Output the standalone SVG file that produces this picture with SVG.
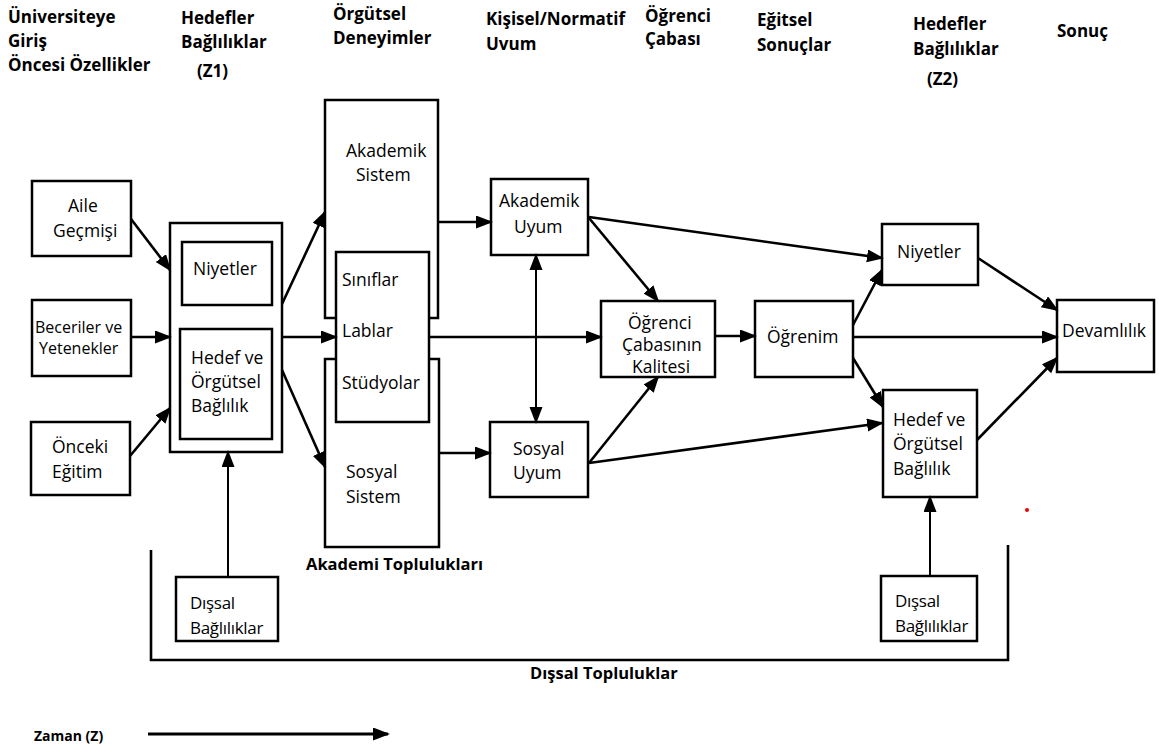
<svg xmlns="http://www.w3.org/2000/svg" width="1159" height="754" viewBox="0 0 1159 754">
<style>
.box{fill:#fff;stroke:#000;stroke-width:2.5}
.t{font-family:"Open Sans","Noto Sans",sans-serif;font-size:17.5px;fill:#000}
.s{font-size:16px}
.c{font-size:17px;letter-spacing:-0.3px}
.h{font-family:"Open Sans","Noto Sans",sans-serif;font-size:17px;font-weight:bold;fill:#000}
.conn line,.conn path{stroke:#000;stroke-width:2.6;fill:none}
</style>
<defs>
<marker id="ah" markerUnits="userSpaceOnUse" markerWidth="18" markerHeight="14" refX="15" refY="6.5" orient="auto">
<path d="M0,0 L17,6.5 L0,13 z" fill="#000"/>
</marker>
<marker id="ahs" markerUnits="userSpaceOnUse" markerWidth="18" markerHeight="14" refX="2" refY="6.5" orient="auto">
<path d="M17,0 L0,6.5 L17,13 z" fill="#000"/>
</marker>
</defs>
<rect width="1159" height="754" fill="#fff"/>

<g id="headers">
<text class="h" x="8" y="23">Üniversiteye</text>
<text class="h" x="8" y="47">Giriş</text>
<text class="h" x="8" y="71">Öncesi Özellikler</text>
<text class="h" x="181" y="24">Hedefler</text>
<text class="h" x="181" y="48">Bağlılıklar</text>
<text class="h" x="197" y="77">(Z1)</text>
<text class="h" x="333" y="20">Örgütsel</text>
<text class="h" x="333" y="44">Deneyimler</text>
<text class="h" x="486" y="25">Kişisel/Normatif</text>
<text class="h" x="486" y="50">Uvum</text>
<text class="h" x="645" y="22">Öğrenci</text>
<text class="h" x="645" y="45">Çabası</text>
<text class="h" x="757" y="26">Eğitsel</text>
<text class="h" x="757" y="51">Sonuçlar</text>
<text class="h" x="913" y="30">Hedefler</text>
<text class="h" x="913" y="55">Bağlılıklar</text>
<text class="h" x="927" y="85">(Z2)</text>
<text class="h" x="1057" y="37">Sonuç</text>
</g>

<g id="aile"><rect class="box" x="32" y="181" width="99" height="75"/>
<text class="t" x="68" y="212">Aile</text><text class="t" x="53" y="237">Geçmişi</text></g>
<g id="beceriler"><rect class="box" x="32" y="300" width="99" height="76"/>
<text class="t s" x="35" y="333">Beceriler ve</text><text class="t s" x="39" y="354">Yetenekler</text></g>
<g id="onceki"><rect class="box" x="31" y="422" width="99" height="73"/>
<text class="t" x="52" y="453">Önceki</text><text class="t" x="52" y="478">Eğitim</text></g>

<g id="z1"><rect class="box" x="170" y="223" width="112" height="229"/></g>
<g id="niyetler1"><rect class="box" x="182" y="242" width="90" height="63"/>
<text class="t" x="193" y="275">Niyetler</text></g>
<g id="hedef1"><rect class="box" x="180" y="329" width="92" height="110"/>
<text class="t" x="191" y="364">Hedef ve</text><text class="t" x="191" y="388">Örgütsel</text><text class="t" x="191" y="412">Bağlılık</text></g>

<g id="akademiksistem"><rect class="box" x="325" y="100" width="113" height="218"/>
<text class="t" x="346" y="157">Akademik</text><text class="t" x="356" y="181">Sistem</text></g>
<g id="sosyalsistem"><rect class="box" x="325" y="359" width="114" height="188"/>
<text class="t" x="346" y="478">Sosyal</text><text class="t" x="346" y="503">Sistem</text></g>
<g id="siniflar"><rect class="box" x="336" y="252" width="93" height="170"/>
<text class="t" x="342" y="286">Sınıflar</text><text class="t" x="342" y="337">Lablar</text><text class="t" x="342" y="389">Stüdyolar</text></g>

<g id="akademikuyum"><rect class="box" x="491" y="179" width="97" height="76"/>
<text class="t" x="499" y="207">Akademik</text><text class="t" x="514" y="233">Uyum</text></g>
<g id="sosyaluyum"><rect class="box" x="490" y="422" width="98" height="75"/>
<text class="t" x="513" y="455">Sosyal</text><text class="t" x="513" y="479">Uyum</text></g>

<g id="ogrencicabasi"><rect class="box" x="601" y="301" width="114" height="76"/>
<text class="t" x="628" y="329">Öğrenci</text><text class="t" x="622" y="351">Çabasının</text><text class="t" x="632" y="373">Kalitesi</text></g>
<g id="ogrenim"><rect class="box" x="755" y="301" width="98" height="76"/>
<text class="t" x="767" y="343">Öğrenim</text></g>

<g id="niyetler2"><rect class="box" x="882" y="224" width="96" height="61"/>
<text class="t" x="897" y="258">Niyetler</text></g>
<g id="hedef2"><rect class="box" x="883" y="390" width="94" height="107"/>
<text class="t" x="893" y="426">Hedef ve</text><text class="t" x="893" y="450">Örgütsel</text><text class="t" x="893" y="475">Bağlılık</text></g>
<g id="devamlilik"><rect class="box" x="1057" y="300" width="97" height="72"/>
<text class="t" x="1062" y="337">Devamlılık</text></g>

<g id="dissal1"><rect class="box" x="176" y="577" width="102" height="64"/>
<text class="t c" x="190" y="609">Dışsal</text><text class="t c" x="190" y="634">Bağlılıklar</text></g>
<g id="dissal2"><rect class="box" x="881" y="576" width="96" height="65"/>
<text class="t c" x="895" y="607">Dışsal</text><text class="t c" x="895" y="632">Bağlılıklar</text></g>

<g id="labels">
<text class="h" x="306" y="570" style="font-size:16.5px">Akademi Toplulukları</text>
<text class="h" x="530" y="679" style="font-size:16.5px">Dışsal Topluluklar</text>
<text class="h" x="34" y="741" style="font-size:14px">Zaman (Z)</text>
</g>

<g class="conn" id="connectors">
<line x1="131" y1="219" x2="170" y2="270" marker-end="url(#ah)"/>
<line x1="131" y1="337" x2="170" y2="337" marker-end="url(#ah)"/>
<line x1="130" y1="456" x2="170" y2="408" marker-end="url(#ah)"/>
<line x1="228" y1="577" x2="228" y2="452" marker-end="url(#ah)" style="stroke-width:2"/>
<line x1="282" y1="304" x2="325" y2="212" marker-end="url(#ah)"/>
<line x1="282" y1="337" x2="336" y2="337" marker-end="url(#ah)"/>
<line x1="282" y1="370" x2="325" y2="467" marker-end="url(#ah)"/>
<line x1="438" y1="222" x2="491" y2="222" marker-end="url(#ah)"/>
<line x1="439" y1="453" x2="490" y2="453" marker-end="url(#ah)"/>
<line x1="536" y1="255" x2="536" y2="422" marker-start="url(#ahs)" marker-end="url(#ah)" style="stroke-width:2"/>
<line x1="429" y1="337" x2="601" y2="337" marker-end="url(#ah)"/>
<line x1="589" y1="218" x2="658" y2="301" marker-end="url(#ah)"/>
<line x1="589" y1="217" x2="882" y2="258" marker-end="url(#ah)"/>
<line x1="589" y1="463" x2="658" y2="377" marker-end="url(#ah)"/>
<line x1="589" y1="463" x2="882" y2="423" marker-end="url(#ah)"/>
<line x1="715" y1="336" x2="755" y2="336" marker-end="url(#ah)"/>
<line x1="853" y1="325" x2="882" y2="270" marker-end="url(#ah)"/>
<line x1="853" y1="337" x2="1057" y2="337" marker-end="url(#ah)"/>
<line x1="853" y1="358" x2="883" y2="407" marker-end="url(#ah)"/>
<line x1="978" y1="258" x2="1057" y2="310" marker-end="url(#ah)"/>
<line x1="977" y1="440" x2="1057" y2="358" marker-end="url(#ah)"/>
<line x1="930" y1="576" x2="930" y2="497" marker-end="url(#ah)" style="stroke-width:2"/>
<path d="M151,550 V660 H1008 V545"/>
<line x1="148" y1="734" x2="388" y2="734" marker-end="url(#ah)" style="stroke-width:3"/>
</g>
<circle cx="1027" cy="510" r="2" fill="#e00"/>
</svg>
